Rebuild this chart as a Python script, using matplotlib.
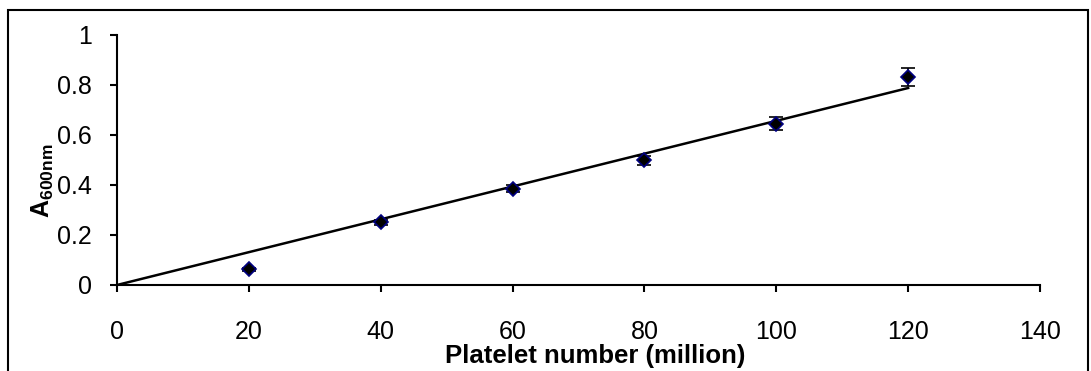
import numpy as np
import matplotlib.pyplot as plt
from matplotlib.patches import Rectangle

platelets = [20, 40, 60, 80, 100, 120]
absorbance = [0.064, 0.252, 0.386, 0.499, 0.645, 0.833]
errors = [0.006, 0.010, 0.014, 0.018, 0.026, 0.036]
fit_x = [0, 120]
fit_y = [0, 0.788]


def main():
    plt.rcParams['font.family'] = ['Liberation Sans', 'DejaVu Sans']
    plt.rcParams['mathtext.fontset'] = 'custom'
    plt.rcParams['mathtext.rm'] = 'Liberation Sans'
    plt.rcParams['mathtext.bf'] = 'Liberation Sans:bold'

    fig = plt.figure(figsize=(10.91, 3.71), dpi=100)
    fig.patches.append(Rectangle((8 / 1091, -0.1), 1080 / 1091, 1.1 - 10 / 371,
                                 transform=fig.transFigure, fill=False,
                                 edgecolor='black', linewidth=1.5))

    ax = fig.add_axes([117 / 1091, 1 - 285 / 371, (1040 - 117) / 1091, 250 / 371])
    ax.plot(fit_x, fit_y, color='black', linewidth=1.8, zorder=2)
    ax.errorbar(platelets, absorbance, yerr=errors, fmt='D', color='black',
                markerfacecolor='black', markeredgecolor='#000080',
                markeredgewidth=1.2, markersize=7.5, ecolor='black',
                elinewidth=1.2, capsize=4.7, capthick=2, zorder=3)

    ax.set_xlim(0, 140)
    ax.set_ylim(0, 1)
    ax.set_xticks(np.arange(0, 141, 20))
    ax.set_yticks([0, 0.2, 0.4, 0.6, 0.8, 1])
    ax.set_yticklabels(['0', '0.2', '0.4', '0.6', '0.8', '1'])
    ax.spines['top'].set_visible(False)
    ax.spines['right'].set_visible(False)
    for s in ('left', 'bottom'):
        ax.spines[s].set_linewidth(1.5)
    ax.tick_params(direction='out', length=5, width=1.5, labelsize=18)
    ax.tick_params(axis='x', pad=20)
    ax.tick_params(axis='y', pad=13)

    ax.set_xlabel('Platelet number (million)', fontsize=18.5, fontweight='bold')
    ax.xaxis.set_label_coords(0.518, -0.236)
    ax.set_ylabel(r'A$_{\mathbf{600nm}}$', fontsize=18, fontweight='bold')
    ax.yaxis.set_label_coords(-0.066, 0.416)

    plt.savefig('out.png', dpi=100)


if __name__ == "__main__":
    main()
